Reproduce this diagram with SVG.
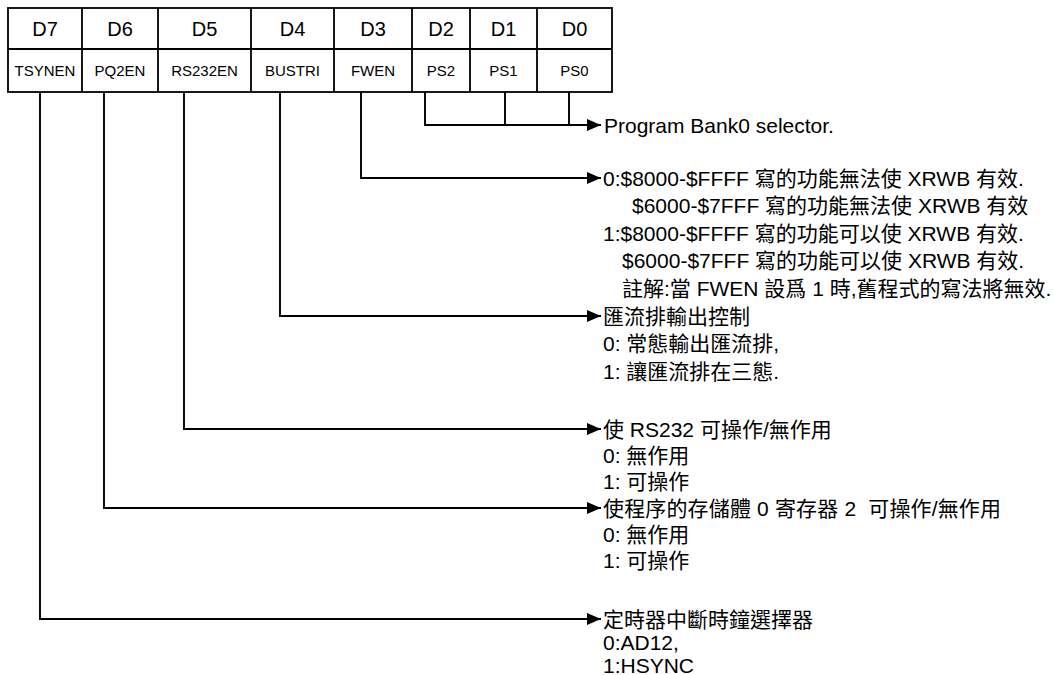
<svg xmlns="http://www.w3.org/2000/svg" width="1053" height="675" viewBox="0 0 1053 675">
<defs>
<style>
.t{font-family:"Liberation Sans","Noto Sans CJK TC",sans-serif;font-size:21px;fill:#000;white-space:pre}
.h{font-family:"Liberation Sans",Arial,sans-serif;font-size:20px;fill:#000;text-anchor:middle}
.n{font-family:"Liberation Sans",Arial,sans-serif;font-size:15px;fill:#000;text-anchor:middle}
.b{fill:none;stroke:#000;stroke-width:1.8}
.c{fill:none;stroke:#000;stroke-width:1.9}
</style>
<marker id="ar" viewBox="0 0 14 12" refX="14" refY="6" markerWidth="14" markerHeight="12" markerUnits="userSpaceOnUse" orient="auto">
<path d="M0,0 L14,6 L0,12 z" fill="#000"/>
</marker>
</defs>
<rect width="1053" height="675" fill="#fff"/>
<g id="register">
<rect class="b" x="8" y="8" width="604" height="84"/>
<path class="b" d="M8,49 H612 M82,8 V92 M158,8 V92 M251,8 V92 M334,8 V92 M412,8 V92 M470,8 V92 M537,8 V92"/>
<text class="h" x="45" y="36">D7</text>
<text class="h" x="120" y="36">D6</text>
<text class="h" x="204.5" y="36">D5</text>
<text class="h" x="292.5" y="36">D4</text>
<text class="h" x="373" y="36">D3</text>
<text class="h" x="441" y="36">D2</text>
<text class="h" x="503.5" y="36">D1</text>
<text class="h" x="574.5" y="36">D0</text>
<text class="n" x="45" y="76">TSYNEN</text>
<text class="n" x="120" y="76">PQ2EN</text>
<text class="n" x="204.5" y="76">RS232EN</text>
<text class="n" x="292.5" y="76">BUSTRI</text>
<text class="n" x="373" y="76">FWEN</text>
<text class="n" x="441" y="76">PS2</text>
<text class="n" x="503.5" y="76">PS1</text>
<text class="n" x="574.5" y="76">PS0</text>
</g>
<g id="connectors">
<path class="c" d="M425,92 V125 H601" marker-end="url(#ar)"/>
<path class="c" d="M505,92 V125 M569,92 V125"/>
<path class="c" d="M361,92 V178 H601" marker-end="url(#ar)"/>
<path class="c" d="M280,92 V316 H601" marker-end="url(#ar)"/>
<path class="c" d="M184,92 V429 H601" marker-end="url(#ar)"/>
<path class="c" d="M104,92 V508 H601" marker-end="url(#ar)"/>
<path class="c" d="M40,92 V619 H601" marker-end="url(#ar)"/>
</g>
<g id="ps-desc">
<text class="t" x="604" y="132.5">Program Bank0 selector.</text>
</g>
<g id="fwen-desc">
<text class="t" x="603" y="185.5">0:$8000-$FFFF 寫的功能無法使 XRWB 有效.</text>
<text class="t" x="632" y="213">$6000-$7FFF 寫的功能無法使 XRWB 有效</text>
<text class="t" x="603" y="240.5">1:$8000-$FFFF 寫的功能可以使 XRWB 有效.</text>
<text class="t" x="622" y="268">$6000-$7FFF 寫的功能可以使 XRWB 有效.</text>
<text class="t" x="622" y="295.5">註解:當 FWEN 設爲 1 時,舊程式的寫法將無效.</text>
</g>
<g id="bustri-desc">
<text class="t" x="603" y="323.5">匯流排輸出控制</text>
<text class="t" x="603" y="351">0: 常態輸出匯流排,</text>
<text class="t" x="603" y="378.5">1: 讓匯流排在三態.</text>
</g>
<g id="rs232-desc">
<text class="t" x="603" y="436.5">使 RS232 可操作/無作用</text>
<text class="t" x="603" y="462.5">0: 無作用</text>
<text class="t" x="603" y="488.5">1: 可操作</text>
</g>
<g id="pq2en-desc">
<text class="t" x="603" y="515.5" textLength="398" lengthAdjust="spacing">使程序的存儲體 0 寄存器 2  可操作/無作用</text>
<text class="t" x="603" y="541.5">0: 無作用</text>
<text class="t" x="603" y="567.5">1: 可操作</text>
</g>
<g id="tsynen-desc">
<text class="t" x="603" y="626.5">定時器中斷時鐘選擇器</text>
<text class="t" x="603" y="650">0:AD12,</text>
<text class="t" x="603" y="673">1:HSYNC</text>
</g>
</svg>
